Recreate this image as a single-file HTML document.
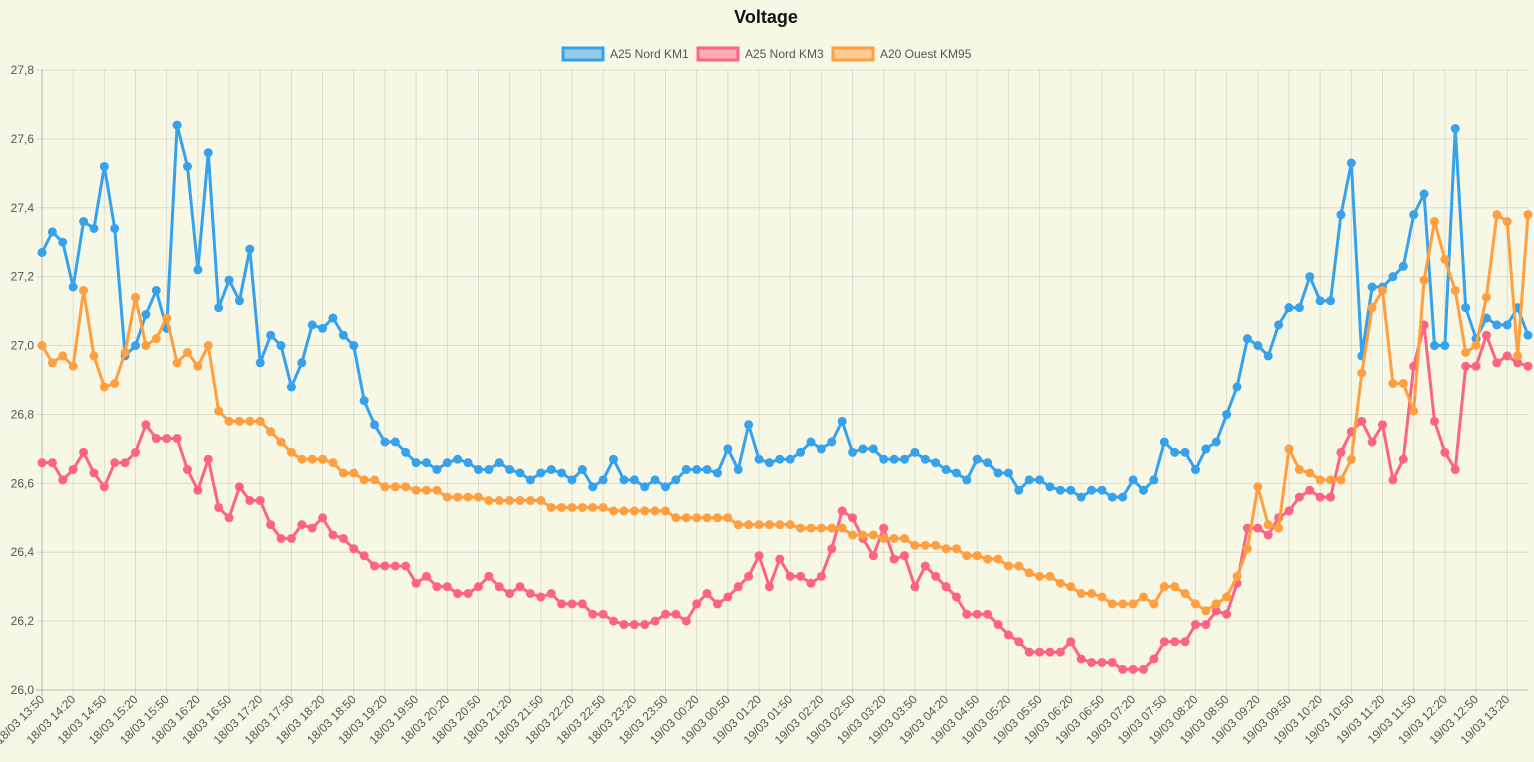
<!DOCTYPE html>
<html><head><meta charset="utf-8"><style>
html,body{margin:0;padding:0;background:#f7f7e6;}
svg{display:block;font-family:"Liberation Sans",Arial,sans-serif;}
</style></head><body>
<svg id="chart" width="1534" height="762" xmlns="http://www.w3.org/2000/svg">
<rect x="0" y="0" width="1534" height="762" fill="#f7f7e6"/>
<text x="766" y="23" text-anchor="middle" font-size="18" font-weight="bold" fill="#111">Voltage</text>
<g>
<g><rect x="563" y="48" width="40" height="12" fill="rgba(54,162,235,0.5)" stroke="#36a2eb" stroke-width="3"/><text x="610" y="58" font-size="12" fill="#555">A25 Nord KM1</text></g>
<g><rect x="698" y="48" width="40" height="12" fill="rgba(255,99,132,0.5)" stroke="#ff6384" stroke-width="3"/><text x="745" y="58" font-size="12" fill="#555">A25 Nord KM3</text></g>
<g><rect x="833" y="48" width="40" height="12" fill="rgba(255,159,64,0.5)" stroke="#ff9f40" stroke-width="3"/><text x="880" y="58" font-size="12" fill="#555">A20 Ouest KM95</text></g>
</g>
<g id="grid"></g>
<g id="axes"></g>
<g id="series"></g>
</svg>
<script>
const yTicks = [26.0,26.2,26.4,26.6,26.8,27.0,27.2,27.4,27.6,27.8];
const tickLabels = ["18/03 13:50","18/03 14:20","18/03 14:50","18/03 15:20","18/03 15:50","18/03 16:20","18/03 16:50","18/03 17:20","18/03 17:50","18/03 18:20","18/03 18:50","18/03 19:20","18/03 19:50","18/03 20:20","18/03 20:50","18/03 21:20","18/03 21:50","18/03 22:20","18/03 22:50","18/03 23:20","18/03 23:50","19/03 00:20","19/03 00:50","19/03 01:20","19/03 01:50","19/03 02:20","19/03 02:50","19/03 03:20","19/03 03:50","19/03 04:20","19/03 04:50","19/03 05:20","19/03 05:50","19/03 06:20","19/03 06:50","19/03 07:20","19/03 07:50","19/03 08:20","19/03 08:50","19/03 09:20","19/03 09:50","19/03 10:20","19/03 10:50","19/03 11:20","19/03 11:50","19/03 12:20","19/03 12:50","19/03 13:20"];
const km1 = [27.27,27.33,27.30,27.17,27.36,27.34,27.52,27.34,26.97,27.00,27.09,27.16,27.05,27.64,27.52,27.22,27.56,27.11,27.19,27.13,27.28,26.95,27.03,
27.00,26.88,26.95,27.06,27.05,27.08,27.03,27.00,26.84,26.77,26.72,26.72,26.69,26.66,26.66,26.64,26.66,26.67,26.66,26.64,26.64,26.66,26.64,26.63,26.61,26.63,26.64,26.63,26.61,
26.64,26.59,26.61,26.67,26.61,26.61,26.59,26.61,26.59,26.61,26.64,26.64,26.64,26.63,26.70,26.64,26.77,26.67,26.66,26.67,26.67,26.69,26.72,26.70,26.72,26.78,26.69,26.70,
26.70,26.67,26.67,26.67,26.69,26.67,26.66,26.64,26.63,26.61,26.67,26.66,26.63,26.63,26.58,26.61,26.61,26.59,26.58,26.58,26.56,26.58,26.58,26.56,26.56,26.61,26.58,26.61,26.72,26.69,
26.69,26.64,26.70,26.72,26.80,26.88,27.02,27.00,26.97,27.06,27.11,27.11,27.20,27.13,27.13,27.38,27.53,26.97,27.17,27.17,27.20,27.23,27.38,27.44,27.00,27.00,27.63,27.11,27.02,27.08,27.06,27.06,27.11,27.03];
const km3 = [26.66,26.66,26.61,26.64,26.69,26.63,26.59,26.66,26.66,26.69,26.77,26.73,26.73,26.73,26.64,26.58,26.67,26.53,26.50,26.59,26.55,26.55,26.48,
26.44,26.44,26.48,26.47,26.50,26.45,26.44,26.41,26.39,26.36,26.36,26.36,26.36,26.31,26.33,26.30,26.30,26.28,26.28,26.30,26.33,26.30,26.28,26.30,26.28,26.27,26.28,26.25,26.25,
26.25,26.22,26.22,26.20,26.19,26.19,26.19,26.20,26.22,26.22,26.20,26.25,26.28,26.25,26.27,26.30,26.33,26.39,26.30,26.38,26.33,26.33,26.31,26.33,26.41,26.52,26.50,26.44,
26.39,26.47,26.38,26.39,26.30,26.36,26.33,26.30,26.27,26.22,26.22,26.22,26.19,26.16,26.14,26.11,26.11,26.11,26.11,26.14,26.09,26.08,26.08,26.08,26.06,26.06,26.06,26.09,26.14,26.14,
26.14,26.19,26.19,26.23,26.22,26.31,26.47,26.47,26.45,26.50,26.52,26.56,26.58,26.56,26.56,26.69,26.75,26.78,26.72,26.77,26.61,26.67,26.94,27.06,26.78,26.69,26.64,26.94,26.94,27.03,26.95,26.97,26.95,26.94];
const km95 = [27.00,26.95,26.97,26.94,27.16,26.97,26.88,26.89,26.98,27.14,27.00,27.02,27.08,26.95,26.98,26.94,27.00,26.81,26.78,26.78,26.78,26.78,26.75,
26.72,26.69,26.67,26.67,26.67,26.66,26.63,26.63,26.61,26.61,26.59,26.59,26.59,26.58,26.58,26.58,26.56,26.56,26.56,26.56,26.55,26.55,26.55,26.55,26.55,26.55,26.53,26.53,26.53,
26.53,26.53,26.53,26.52,26.52,26.52,26.52,26.52,26.52,26.50,26.50,26.50,26.50,26.50,26.50,26.48,26.48,26.48,26.48,26.48,26.48,26.47,26.47,26.47,26.47,26.47,26.45,26.45,
26.45,26.44,26.44,26.44,26.42,26.42,26.42,26.41,26.41,26.39,26.39,26.38,26.38,26.36,26.36,26.34,26.33,26.33,26.31,26.30,26.28,26.28,26.27,26.25,26.25,26.25,26.27,26.25,26.30,26.30,
26.28,26.25,26.23,26.25,26.27,26.33,26.41,26.59,26.48,26.47,26.70,26.64,26.63,26.61,26.61,26.61,26.67,26.92,27.11,27.16,26.89,26.89,26.81,27.19,27.36,27.25,27.16,26.98,27.00,27.14,27.38,27.36,26.97,27.38];
const seriesNames = ["a25-nord-km1","a25-nord-km3","a20-ouest-km95"];
const seriesColors = ["#36a2eb","#ff6384","#ff9f40"];
const tickEvery = 3;

const NS="http://www.w3.org/2000/svg";
const L=42,R=1528,T=70,B=690,yMin=26.0,yMax=27.8;
const N=km1.length;
function xs(i){return L+(R-L)*i/(N-1);}
function ys(v){return B-(v-yMin)/(yMax-yMin)*(B-T);}
function mk(tag,attrs,parent){const e=document.createElementNS(NS,tag);for(const k in attrs)e.setAttribute(k,attrs[k]);parent.appendChild(e);return e;}
const grid=document.getElementById('grid'),axes=document.getElementById('axes'),ser=document.getElementById('series');
yTicks.forEach(v=>{
  const y=ys(v);
  const ln=mk('line',{x1:L-6,x2:R,y1:y,y2:y,stroke:v===yMin?'rgba(0,0,0,0.25)':'rgba(0,0,0,0.1)','stroke-width':1},grid);
  
  
  const t=mk('text',{x:L-8,y:y+4,'text-anchor':'end','font-size':12,fill:'#555'},axes);
  t.textContent=v.toFixed(1).replace('.',',');
  
  
});
tickLabels.forEach((lab,k)=>{
  const x=xs(k*tickEvery);
  const ln=mk('line',{x1:x,x2:x,y1:T,y2:B+6,stroke:k===0?'rgba(0,0,0,0.25)':'rgba(0,0,0,0.1)','stroke-width':1},grid);
  
  
  const t=mk('text',{x:x+3,y:B+10,'text-anchor':'end','font-size':12,fill:'#555',transform:`rotate(-45 ${x+3} ${B+10})`},axes);
  t.textContent=lab;
  
  
});
[km1,km3,km95].forEach((data,s)=>{
  const g=mk('g',{},ser);
  
  
  const d=data.map((v,i)=>(i?'L':'M')+xs(i).toFixed(2)+' '+ys(v).toFixed(2)).join(' ');
  const p=mk('path',{d:d,fill:'none',stroke:seriesColors[s],'stroke-width':3,'stroke-linejoin':'round'},g);
  
  
  data.forEach((v,i)=>{
    const c=mk('circle',{cx:xs(i),cy:ys(v),r:4.5,fill:seriesColors[s]},g);
    
    
  });
});
</script>
</body></html>
